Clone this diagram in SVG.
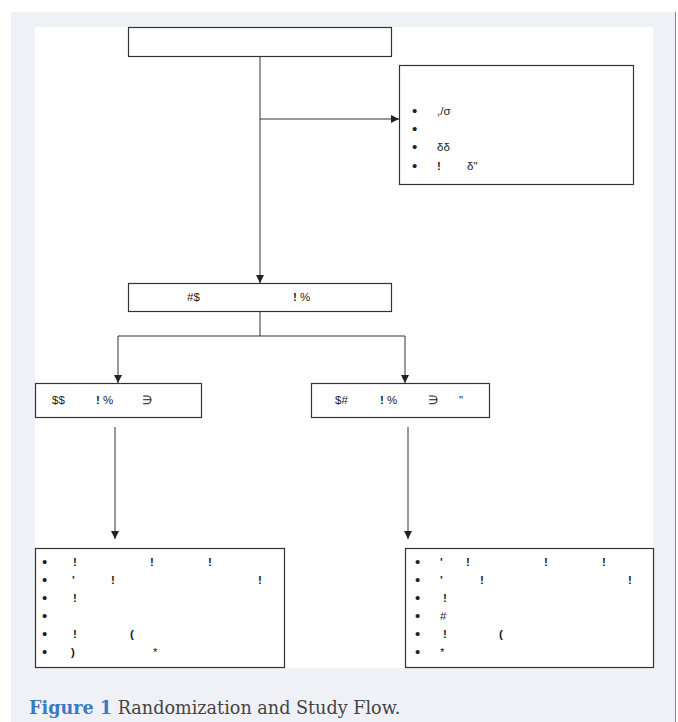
<svg xmlns="http://www.w3.org/2000/svg" width="678" height="722" viewBox="0 0 678 722">
<defs>
<marker id="ah" viewBox="0 0 10 10" refX="10" refY="5" markerWidth="8" markerHeight="8" markerUnits="userSpaceOnUse" orient="auto">
<path d="M0,0 L10,5 L0,10 z" fill="#222"/>
</marker>
<style>
.box{fill:#fff;stroke:#333;stroke-width:1.2}
.ln{fill:none;stroke:#333;stroke-width:1}
.t{font-family:"Liberation Sans",Arial,sans-serif;font-size:11.5px;fill:#222}
.bu{font-size:15px}
.b{font-weight:bold}
.cap{font-family:"DejaVu Serif","Liberation Serif",serif;font-size:17.6px;fill:#444}
</style>
</defs>
<rect x="11" y="12" width="665" height="710" fill="#f0f1f7"/>
<line x1="675.5" y1="12" x2="675.5" y2="722" stroke="#888" stroke-width="1"/>
<rect x="35" y="27" width="618" height="641" fill="#fff"/>

<g id="connectors">
<path class="ln" d="M260,56 V283" marker-end="url(#ah)"/>
<path class="ln" d="M260,119 H399" marker-end="url(#ah)"/>
<path class="ln" d="M260,311 V336 M118,336 H405"/>
<path class="ln" d="M118,336 V383" marker-end="url(#ah)"/>
<path class="ln" d="M405,336 V383" marker-end="url(#ah)"/>
<path class="ln" d="M115,427 V539" marker-end="url(#ah)"/>
<path class="ln" d="M408,427 V539" marker-end="url(#ah)"/>
</g>

<g id="n1"><rect class="box" x="128.5" y="27.5" width="263" height="29"/></g>

<g id="n2">
<rect class="box" x="399.5" y="65.5" width="234" height="119"/>
<g class="t">
<text x="412" y="116" class="bu">•</text><text x="437" y="115">,/σ</text>
<text x="412" y="134" class="bu">•</text>
<text x="412" y="152" class="bu">•</text><text x="437" y="151">δδ</text>
<text x="412" y="171" class="bu">•</text><text x="437" y="170" class="b">!</text><text x="467" y="170">δ"</text>
</g>
</g>

<g id="n3">
<rect class="box" x="128.5" y="283.5" width="263" height="28"/>
<g class="t"><text x="187" y="301">#$</text><text x="293" y="301"><tspan class="b">!</tspan> %</text></g>
</g>

<g id="n4">
<rect class="box" x="35.5" y="383.5" width="166" height="34"/>
<g class="t"><text x="52" y="404">$$</text><text x="96" y="404"><tspan class="b">!</tspan> %</text><text x="142" y="404">∋</text></g>
</g>

<g id="n5">
<rect class="box" x="311.5" y="383.5" width="178" height="34"/>
<g class="t"><text x="335" y="404">$#</text><text x="380" y="404"><tspan class="b">!</tspan> %</text><text x="428" y="404">∋</text><text x="459" y="404">"</text></g>
</g>

<g id="n6">
<rect class="box" x="35.5" y="548.5" width="249" height="119"/>
<g class="t">
<text x="42" y="567" class="bu">•</text><text x="73" y="566" class="b">!</text><text x="150" y="566" class="b">!</text><text x="208" y="566" class="b">!</text>
<text x="42" y="585" class="bu">•</text><text x="72" y="584" class="b">'</text><text x="111" y="584" class="b">!</text><text x="258" y="584" class="b">!</text>
<text x="42" y="603" class="bu">•</text><text x="73" y="602" class="b">!</text>
<text x="42" y="621" class="bu">•</text>
<text x="42" y="639" class="bu">•</text><text x="73" y="638" class="b">!</text><text x="130" y="638" class="b">(</text>
<text x="42" y="657" class="bu">•</text><text x="71" y="656" class="b">)</text><text x="153" y="656">*</text>
</g>
</g>

<g id="n7">
<rect class="box" x="405.5" y="548.5" width="248" height="119"/>
<g class="t">
<text x="415" y="567" class="bu">•</text><text x="440" y="566" class="b">'</text><text x="466" y="566" class="b">!</text><text x="544" y="566" class="b">!</text><text x="602" y="566" class="b">!</text>
<text x="415" y="585" class="bu">•</text><text x="440" y="584" class="b">'</text><text x="480" y="584" class="b">!</text><text x="628" y="584" class="b">!</text>
<text x="415" y="603" class="bu">•</text><text x="443" y="602" class="b">!</text>
<text x="415" y="621" class="bu">•</text><text x="440" y="620">#</text>
<text x="415" y="639" class="bu">•</text><text x="443" y="638" class="b">!</text><text x="499" y="638" class="b">(</text>
<text x="415" y="657" class="bu">•</text><text x="440" y="656">*</text>
</g>
</g>

<text class="cap" x="29" y="714"><tspan font-weight="bold" fill="#3a7bbf">Figure 1</tspan> Randomization and Study Flow.</text>
</svg>
